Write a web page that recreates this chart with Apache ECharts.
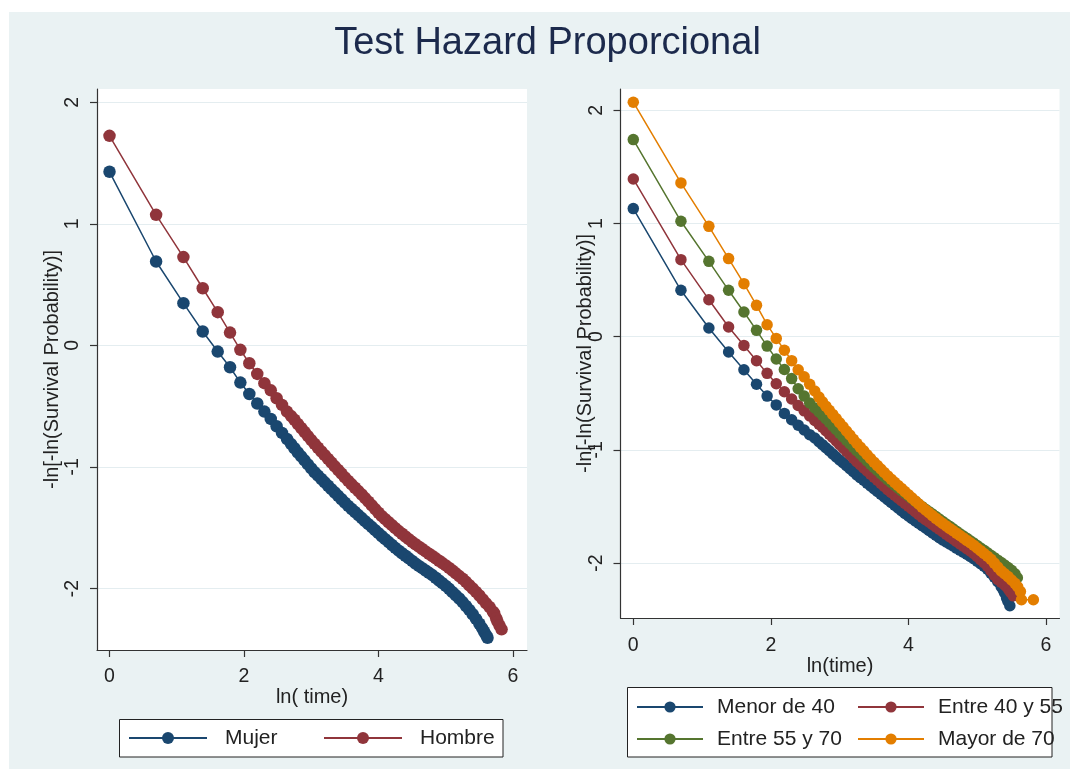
<!DOCTYPE html>
<html>
<head>
<meta charset="utf-8">
<script src="https://cdn.jsdelivr.net/npm/echarts@6/dist/echarts.min.js"></script>
<style>
html,body{margin:0;padding:0;background:#ffffff;}
#chart{width:1070px;height:769px;}
</style>
</head>
<body>
<div id="chart"></div>
<script>
// ---- Data ----
const chartTitle = 'Test Hazard Proporcional';
const xTicks = [0, 2, 4, 6];
const yTicks = [-2, -1, 0, 1, 2];
const sexNames = ['Mujer', 'Hombre'];
const ageNames = ['Menor de 40', 'Entre 40 y 55', 'Entre 55 y 70', 'Mayor de 70'];

// ln(time) for the first, clearly separated failure times
const lnTimeEarly = [0, 0.693, 1.099, 1.386, 1.609, 1.792, 1.946, 2.079, 2.197, 2.303, 2.398, 2.485, 2.565, 2.639];
// ln(time) positions sampled along the dense part of the curves
const lnTimeDense = [2.70, 2.75, 2.80, 2.85, 2.90, 2.95, 3.00,
  3.05, 3.10, 3.15, 3.20, 3.25, 3.30, 3.35, 3.40, 3.45, 3.50,
  3.55, 3.60, 3.65, 3.70, 3.75, 3.80, 3.85, 3.90, 3.95, 4.00,
  4.05, 4.10, 4.15, 4.20, 4.25, 4.30, 4.35, 4.40, 4.45, 4.50,
  4.55, 4.60, 4.65, 4.70, 4.75, 4.80, 4.85, 4.90, 4.95, 5.00,
  5.05, 5.10, 5.15, 5.20, 5.25, 5.30, 5.35, 5.40];

// Left panel: Mujer
const mujerEarly = [1.428, 0.69, 0.347, 0.114, -0.051, -0.18, -0.306, -0.40, -0.478, -0.545, -0.605, -0.665, -0.72, -0.77];
const mujerDense = [-0.812, -0.846, -0.881, -0.913, -0.946, -0.979, -1.012,
  -1.044, -1.071, -1.099, -1.127, -1.155, -1.183, -1.21, -1.238, -1.266, -1.294,
  -1.321, -1.346, -1.371, -1.396, -1.421, -1.446, -1.471, -1.495, -1.52, -1.545,
  -1.57, -1.594, -1.618, -1.642, -1.666, -1.689, -1.71, -1.731, -1.752, -1.773,
  -1.795, -1.814, -1.833, -1.852, -1.871, -1.89, -1.912, -1.934, -1.956, -1.979,
  -2.003, -2.03, -2.056, -2.082, -2.112, -2.144, -2.176, -2.212];
const mujerTailX = [5.45, 5.50, 5.54, 5.571, 5.60, 5.621];
const mujerTailY = [-2.25, -2.29, -2.326, -2.356, -2.383, -2.405];

// Left panel: Hombre
const hombreEarly = [1.724, 1.074, 0.726, 0.47, 0.273, 0.105, -0.037, -0.147, -0.235, -0.311, -0.37, -0.435, -0.49, -0.545];
const hombreDense = [-0.582, -0.612, -0.647, -0.68, -0.713, -0.746, -0.779,
  -0.811, -0.842, -0.873, -0.903, -0.934, -0.964, -0.995, -1.025, -1.055, -1.086,
  -1.115, -1.143, -1.171, -1.199, -1.227, -1.256, -1.286, -1.316, -1.347, -1.377,
  -1.405, -1.43, -1.455, -1.479, -1.504, -1.528, -1.55, -1.572, -1.594, -1.616,
  -1.636, -1.656, -1.675, -1.695, -1.714, -1.733, -1.752, -1.772, -1.791, -1.81,
  -1.831, -1.853, -1.875, -1.898, -1.92, -1.945, -1.973, -2.0];
const hombreTailX = [5.45, 5.50, 5.55, 5.60, 5.65, 5.70, 5.72, 5.75, 5.77, 5.80, 5.83];
const hombreTailY = [-2.028, -2.058, -2.09, -2.122, -2.152, -2.19, -2.204, -2.245, -2.273, -2.305, -2.336];

// Right panel: Menor de 40
const menor40Early = [1.132, 0.41, 0.077, -0.135, -0.292, -0.42, -0.525, -0.603, -0.678, -0.734, -0.782, -0.825, -0.866, -0.895];
const menor40Dense = [-0.928, -0.954, -0.981, -1.008, -1.036, -1.063, -1.09,
  -1.113, -1.14, -1.167, -1.194, -1.221, -1.245, -1.269, -1.294, -1.318, -1.343,
  -1.367, -1.392, -1.416, -1.441, -1.465, -1.49, -1.514, -1.538, -1.562, -1.585,
  -1.606, -1.628, -1.649, -1.67, -1.691, -1.713, -1.734, -1.755, -1.777, -1.796,
  -1.814, -1.832, -1.85, -1.868, -1.886, -1.905, -1.923, -1.942, -1.961, -1.983,
  -2.006, -2.029, -2.055, -2.091, -2.126, -2.165, -2.21];
const menor40TailX = [5.379, 5.40, 5.428, 5.45, 5.476];
const menor40TailY = [-2.237, -2.265, -2.31, -2.34, -2.378];

// Right panel: Entre 40 y 55
const e4055Early = [1.394, 0.681, 0.327, 0.086, -0.077, -0.212, -0.324, -0.416, -0.487, -0.551, -0.608, -0.655, -0.70, -0.74];
const e4055Dense = [-0.773, -0.80, -0.83, -0.861, -0.891, -0.922, -0.952,
  -0.983, -1.013, -1.043, -1.073, -1.104, -1.131, -1.159, -1.186, -1.214, -1.241,
  -1.269, -1.296, -1.324, -1.351, -1.377, -1.401, -1.425, -1.449, -1.473, -1.498,
  -1.522, -1.546, -1.571, -1.595, -1.617, -1.638, -1.659, -1.681, -1.702, -1.724,
  -1.745, -1.767, -1.788, -1.81, -1.831, -1.852, -1.873, -1.894, -1.916, -1.943,
  -1.97, -1.997, -2.027, -2.068, -2.108, -2.145, -2.17, -2.194];
const e4055TailX = [5.428, 5.46, 5.49, 5.525];
const e4055TailY = [-2.208, -2.235, -2.26, -2.29];

// Right panel: Entre 55 y 70
const e5570Early = [1.742, 1.02, 0.666, 0.41, 0.218, 0.056, -0.083, -0.197, -0.29, -0.37, -0.46, -0.525, -0.585, -0.63];
const e5570Dense = [-0.665, -0.693, -0.724, -0.756, -0.788, -0.82, -0.852,
  -0.883, -0.914, -0.945, -0.976, -1.007, -1.037, -1.067, -1.097, -1.127, -1.156,
  -1.183, -1.21, -1.237, -1.264, -1.289, -1.313, -1.337, -1.36, -1.384, -1.407,
  -1.431, -1.455, -1.479, -1.502, -1.525, -1.546, -1.568, -1.59, -1.611, -1.633,
  -1.655, -1.676, -1.698, -1.72, -1.741, -1.762, -1.782, -1.803, -1.823, -1.845,
  -1.867, -1.888, -1.91, -1.931, -1.953, -1.975, -1.996, -2.018];
const e5570TailX = [5.45, 5.50, 5.55, 5.585];
const e5570TailY = [-2.04, -2.065, -2.095, -2.13];

// Right panel: Mayor de 70
const mayor70Early = [2.072, 1.359, 0.975, 0.69, 0.469, 0.277, 0.106, -0.015, -0.12, -0.212, -0.292, -0.355, -0.42, -0.48];
const mayor70Dense = [-0.534, -0.576, -0.614, -0.65, -0.687, -0.723, -0.76,
  -0.796, -0.833, -0.869, -0.906, -0.942, -0.976, -1.009, -1.043, -1.076, -1.109,
  -1.139, -1.169, -1.2, -1.23, -1.259, -1.287, -1.314, -1.341, -1.369, -1.396,
  -1.424, -1.451, -1.479, -1.506, -1.532, -1.556, -1.581, -1.605, -1.629, -1.651,
  -1.672, -1.694, -1.715, -1.736, -1.757, -1.778, -1.8, -1.821, -1.843, -1.867,
  -1.891, -1.916, -1.94, -1.967, -2.001, -2.036, -2.07];
const mayor70TailX = [5.40, 5.45, 5.50, 5.55, 5.59, 5.63, 5.645, 5.818];
const mayor70TailY = [-2.095, -2.12, -2.15, -2.18, -2.21, -2.252, -2.325, -2.325];

// ---- Build ----
function pairs(xs, ys) { return ys.map(function (y, i) { return [xs[i], y]; }); }
function curve(early, dense, tx, ty) {
  return pairs(lnTimeEarly, early).concat(pairs(lnTimeDense, dense), pairs(tx, ty));
}

const colors = { navy: '#1a476f', maroon: '#90353b', green: '#55752f', orange: '#e37e00' };
const FONT = '"Liberation Sans", Arial, Helvetica, sans-serif';
const axisColor = '#333333';
const textColor = '#222222';

function mkSeries(name, color, data, gi, size) {
  return {
    name: name, type: 'line', xAxisIndex: gi, yAxisIndex: gi,
    data: data, symbol: 'circle', symbolSize: size, showSymbol: true, showAllSymbol: true,
    lineStyle: { color: color, width: 1.5 },
    itemStyle: { color: color },
    emphasis: { disabled: true }, animation: false, z: 3
  };
}

function xAxisCfg(gi, name, max, labelMargin, nameGap) {
  return {
    type: 'value', gridIndex: gi, min: -0.186, max: max,
    name: name, nameLocation: 'middle', nameGap: nameGap, nameMoveOverlap: false,
    nameTextStyle: { fontFamily: FONT, fontSize: 20, color: textColor },
    axisLine: { show: true, onZero: false, lineStyle: { color: axisColor, width: 1.2 } },
    axisTick: { show: true, length: 7, customValues: xTicks, lineStyle: { color: axisColor, width: 1.2 } },
    axisLabel: { customValues: xTicks, fontFamily: FONT, fontSize: 19.5, color: textColor, margin: labelMargin },
    splitLine: { show: false }
  };
}
function yAxisCfg(gi, min, max, labelMargin, nameGap) {
  return {
    type: 'value', gridIndex: gi, min: min, max: max,
    name: '-ln[-ln(Survival Probability)]', nameLocation: 'middle', nameGap: nameGap, nameRotate: 90, nameMoveOverlap: false,
    nameTextStyle: { fontFamily: FONT, fontSize: 20, color: textColor },
    axisLine: { show: true, onZero: false, lineStyle: { color: axisColor, width: 1.2 } },
    axisTick: { show: true, length: 7, customValues: yTicks, lineStyle: { color: axisColor, width: 1.2 } },
    axisLabel: { customValues: yTicks, rotate: 90, fontFamily: FONT, fontSize: 19.5, color: textColor, margin: labelMargin },
    splitLine: { show: true, customValues: yTicks, lineStyle: { color: '#e4edf0', width: 1.2 } }
  };
}

function legendCfg(names, left, top, iw, ih, textW, pad, gap) {
  return {
    data: names, left: left, top: top, orient: 'horizontal', padding: 0,
    itemWidth: iw, itemHeight: ih, itemGap: gap, selectedMode: false,
    backgroundColor: 'transparent', borderWidth: 0,
    textStyle: { fontFamily: FONT, fontSize: 21, color: textColor, width: textW, padding: [0, 0, 0, pad], lineHeight: 22 }
  };
}

const chart = echarts.init(document.getElementById('chart'), null, { renderer: 'canvas' });
chart.setOption({
  backgroundColor: '#eaf2f3',
  animation: false,
  graphic: [
    { type: 'rect', shape: { x: 0, y: 0, width: 1070, height: 12 }, style: { fill: '#ffffff' }, silent: true },
    { type: 'rect', shape: { x: 0, y: 0, width: 9, height: 769 }, style: { fill: '#ffffff' }, silent: true },
    { type: 'text', x: 547.5, y: 44, style: { text: chartTitle, font: '38px ' + FONT, fill: '#1c2a4c', align: 'center', verticalAlign: 'middle' }, silent: true },
    { type: 'rect', shape: { x: 119.5, y: 719.5, width: 383.5, height: 37.5 }, style: { fill: '#ffffff', stroke: '#222222', lineWidth: 1 }, silent: true, z: 1 },
    { type: 'rect', shape: { x: 627.5, y: 687.5, width: 424.5, height: 69.5 }, style: { fill: '#ffffff', stroke: '#222222', lineWidth: 1 }, silent: true, z: 1 }
  ],
  grid: [
    { left: 97, top: 89, width: 430, height: 561, show: true, backgroundColor: '#ffffff', borderWidth: 0 },
    { left: 620.5, top: 89, width: 439, height: 529, show: true, backgroundColor: '#ffffff', borderWidth: 0 }
  ],
  xAxis: [
    xAxisCfg(0, 'ln( time)', 6.208, 17, 37),
    xAxisCfg(1, 'ln(time)', 6.198, 18, 38)
  ],
  yAxis: [
    yAxisCfg(0, -2.506, 2.109, 14, 35),
    yAxisCfg(1, -2.486, 2.189, 14, 25)
  ],
  legend: [
    legendCfg(sexNames, 128, 727, 78, 15, 80, 13, 18),
    legendCfg(ageNames.slice(0, 2), 636, 696, 66, 14, 126, 9, 14),
    legendCfg(ageNames.slice(2, 4), 636, 728, 66, 14, 126, 9, 14)
  ],
  series: [
    mkSeries(sexNames[0], colors.navy, curve(mujerEarly, mujerDense, mujerTailX, mujerTailY), 0, 12.5),
    mkSeries(sexNames[1], colors.maroon, curve(hombreEarly, hombreDense, hombreTailX, hombreTailY), 0, 12.5),
    mkSeries(ageNames[0], colors.navy, curve(menor40Early, menor40Dense, menor40TailX, menor40TailY), 1, 11.5),
    mkSeries(ageNames[1], colors.maroon, curve(e4055Early, e4055Dense, e4055TailX, e4055TailY), 1, 11.5),
    mkSeries(ageNames[2], colors.green, curve(e5570Early, e5570Dense, e5570TailX, e5570TailY), 1, 11.5),
    mkSeries(ageNames[3], colors.orange, curve(mayor70Early, mayor70Dense, mayor70TailX, mayor70TailY), 1, 11.5)
  ]
});
</script>
</body>
</html>
